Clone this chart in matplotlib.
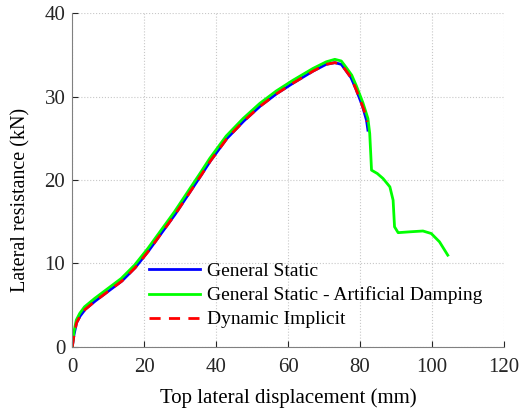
import matplotlib
matplotlib.use("Agg")
import matplotlib.pyplot as plt
import numpy as np

plt.rcParams["font.family"] = ["Liberation Serif", "DejaVu Serif"]

# General Static - Artificial Damping (green)
damp_x = [0.0, 0.47, 1.1, 2.05, 3.4, 6.2, 9.9, 13.6, 17.3, 21.0, 24.7, 28.4, 32.1,
          35.8, 38.2, 42.8, 47.5, 52.1, 56.7, 61.4, 66.9, 70.6, 73.0, 74.8, 76.2,
          77.7, 79.0, 80.8, 82.2, 82.7, 83.0, 83.2, 84.8, 86.4, 88.3, 89.2, 89.6,
          90.6, 93.8, 97.5, 99.8, 102.1, 104.4]
damp_y = [0.0, 1.8, 3.2, 4.0, 4.8, 5.8, 7.0, 8.2, 9.8, 11.8, 14.0, 16.2, 18.6,
          21.0, 22.6, 25.3, 27.4, 29.2, 30.7, 32.0, 33.4, 34.2, 34.5, 34.3, 33.5,
          32.6, 31.3, 29.3, 27.4, 25.6, 23.0, 21.2, 20.8, 20.2, 19.2, 17.6, 14.4,
          13.7, 13.8, 13.9, 13.6, 12.6, 11.0]

# General Static (blue)
static_x = [0.0, 0.5, 1.2, 2.2, 3.6, 6.4, 10.1, 13.8, 17.5, 21.2, 24.9, 28.6, 32.3,
            36.0, 38.4, 43.0, 47.7, 52.3, 56.9, 61.6, 67.0, 70.6, 73.0, 74.8, 76.0,
            77.5, 78.8, 80.6, 81.8, 82.2]
static_y = [0.0, 1.5, 2.9, 3.7, 4.5, 5.5, 6.7, 7.9, 9.5, 11.5, 13.7, 15.9, 18.3,
            20.7, 22.3, 25.0, 27.1, 28.9, 30.4, 31.7, 33.1, 33.9, 34.1, 33.9, 33.2,
            32.3, 31.0, 29.0, 27.2, 26.0]

# Dynamic Implicit (red, dashed)
dyn_x = [0.0, 0.5, 1.2, 2.2, 3.6, 6.4, 10.1, 13.8, 17.5, 21.2, 24.9, 28.6, 32.3,
         36.0, 38.4, 43.0, 47.7, 52.3, 56.9, 61.6, 67.0, 70.6, 73.0, 74.8, 76.0,
         77.5, 78.8, 80.6, 81.6, 82.0]
dyn_y = [0.0, 1.5, 2.9, 3.7, 4.5, 5.5, 6.7, 7.9, 9.5, 11.5, 13.7, 15.9, 18.3,
         20.7, 22.3, 25.0, 27.1, 28.9, 30.4, 31.7, 33.1, 33.9, 34.1, 33.9, 33.2,
         32.3, 31.0, 29.0, 27.8, 27.0]

fig = plt.figure(figsize=(5.2, 4.09), dpi=100)
ax = fig.add_axes([0.139, 0.152, 0.830, 0.815])

ax.plot(static_x, static_y, color="#0000ff", lw=2.0, label="General Static")
ax.plot(damp_x, damp_y, color="#00ff00", lw=2.0, label="General Static - Artificial Damping")
ax.plot(dyn_x, dyn_y, color="#ff0000", lw=2.0, ls=(0, (4, 3)), label="Dynamic Implicit")

ax.set_xlim(0, 120)
ax.set_ylim(0, 40)
ax.set_xticks(np.arange(0, 121, 20))
ax.set_yticks(np.arange(0, 41, 10))
ax.grid(True, ls=":", color="#c8c8c8", lw=0.8)
ax.tick_params(direction="in", labelsize=15, colors="#262626", length=4)
ax.tick_params(axis="x", pad=8)
ax.tick_params(axis="y", pad=5)
for side in ["top", "right"]:
    ax.spines[side].set_visible(False)
for side in ["left", "bottom"]:
    ax.spines[side].set_color("#808080")

ax.set_xlabel("Top lateral displacement (mm)", fontsize=15, labelpad=8)
ax.set_ylabel("Lateral resistance (kN)", fontsize=14.5)
ax.yaxis.set_label_coords(-0.096, 0.44)

ax.legend(loc="lower left", bbox_to_anchor=(0.16, 0.032), frameon=False, fontsize=14,
          handlelength=2.6, handletextpad=0.36, labelspacing=0.33, borderaxespad=0)

fig.savefig("out.png", dpi=100)
